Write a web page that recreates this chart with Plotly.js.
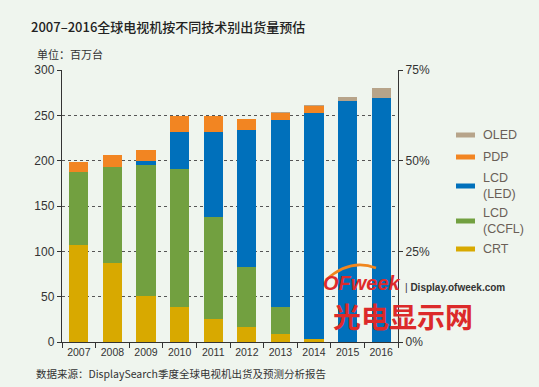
<!DOCTYPE html>
<html>
<head>
<meta charset="utf-8">
<script src="https://cdn.plot.ly/plotly-3.0.1.min.js"></script>
<style>
html,body{margin:0;padding:0;background:#eff5ee;}
#chart{width:539px;height:387px;}
</style>
</head>
<body>
<div id="chart"></div>
<script>
// ---- data (millions of units) ----
const years = ['2007','2008','2009','2010','2011','2012','2013','2014','2015','2016'];
const crt   = [107, 87, 51, 39, 25, 17, 9, 3, 0, 0];
const ccfl  = [80, 106.5, 144, 152, 113, 66, 30, 0, 0, 0];
const led   = [0, 0, 4.5, 41, 94, 151, 205.5, 250, 265.5, 269];
const pdp   = [11, 13, 12.5, 17.5, 17.5, 12.5, 8.5, 7, 0.5, 0];
const oled  = [0, 0, 0, 0, 0, 0, 0.3, 1.2, 4, 11];
const leftTicks  = [0, 50, 100, 150, 200, 250, 300];
const rightTicks = [0, 0.25, 0.5, 0.75];

const seriesNames = ['CRT', 'LCD<br>(CCFL)', 'LCD<br>(LED)', 'PDP', 'OLED'];
const seriesData  = [crt, ccfl, led, pdp, oled];
const colors      = ['#d8a900', '#72a040', '#0070bb', '#f28522', '#b7a48a'];

const FONT = '"Liberation Sans", "Noto Sans CJK SC", Arial, sans-serif';
const CJK = '"Noto Sans CJK SC", "Liberation Sans", sans-serif';

// plot-area pixel geometry helpers
const L = 62, R = 398, T = 70, B = 342;
const px = x => (x - L) / (R - L);
const py = y => (B - y) / (B - T);

const traces = seriesData.map((d, i) => ({
  type: 'bar', x: years, y: d, name: seriesNames[i],
  marker: {color: colors[i], line: {width: 0}},
  showlegend: false, hoverinfo: 'x+y+name'
}));
// helper trace so the right axis is drawn
traces.push({type: 'scatter', x: [years[0]], y: [rightTicks[0]], yaxis: 'y2',
  mode: 'none', showlegend: false, hoverinfo: 'skip'});

// custom legend (line swatches) built from series list
const legendY = [249, 221, 186, 157, 135];
const shapes = [];
const annotations = [];
seriesNames.forEach((n, i) => {
  shapes.push({type: 'line', xref: 'paper', yref: 'paper',
    x0: px(456), x1: px(475), y0: py(legendY[i]), y1: py(legendY[i]),
    line: {color: colors[i], width: 5}});
  annotations.push({xref: 'paper', yref: 'paper', x: px(481), y: py(legendY[i]),
    xanchor: 'left', yanchor: 'middle', align: 'left', showarrow: false,
    text: n, font: {family: FONT, size: 12.5, color: '#6a5f57'}});
});

// titles / notes
annotations.push({xref: 'paper', yref: 'paper', x: px(29), y: py(27),
  xanchor: 'left', yanchor: 'middle', showarrow: false,
  text: '2007–2016全球电视机按不同技术别出货量预估',
  font: {family: CJK, size: 13, color: '#222', weight: 500}});
annotations.push({xref: 'paper', yref: 'paper', x: px(35), y: py(54),
  xanchor: 'left', yanchor: 'middle', showarrow: false,
  text: '单位：百万台', font: {family: CJK, size: 11, color: '#333'}});
annotations.push({xref: 'paper', yref: 'paper', x: px(34), y: py(373),
  xanchor: 'left', yanchor: 'middle', showarrow: false,
  text: '数据来源：DisplaySearch季度全球电视机出货及预测分析报告',
  font: {family: CJK, size: 10.5, color: '#333'}});

// watermark
annotations.push({xref: 'paper', yref: 'paper', x: px(321), y: py(283),
  xanchor: 'left', yanchor: 'middle', showarrow: false,
  text: '<b><i>OFweek</i></b>', font: {family: 'Liberation Sans, Arial, sans-serif', size: 20, color: '#de2b2b'}});
annotations.push({xref: 'paper', yref: 'paper', x: px(403), y: py(287),
  xanchor: 'left', yanchor: 'middle', showarrow: false,
  text: '| <b>Display.ofweek.com</b>', font: {family: 'Liberation Sans, Arial, sans-serif', size: 10, color: '#333'}});
annotations.push({xref: 'paper', yref: 'paper', x: px(331), y: py(315.5),
  xanchor: 'left', yanchor: 'middle', showarrow: false,
  text: '<b>光电显示网</b>', font: {family: CJK, size: 28, color: '#dc2a2a'}});
shapes.push({type: 'path', xref: 'paper', yref: 'paper', layer: 'above',
  path: 'M ' + px(326) + ' ' + py(280) + ' Q ' + px(350) + ' ' + py(258) + ' ' + px(376) + ' ' + py(268),
  line: {color: '#f0861e', width: 2.5}});

const layout = {
  width: 539, height: 387,
  margin: {l: L, r: 539 - R, t: T, b: 387 - B, pad: 0},
  paper_bgcolor: '#eff5ee', plot_bgcolor: 'rgba(0,0,0,0)',
  barmode: 'stack', bargap: 0.43,
  font: {family: FONT, size: 11, color: '#333'},
  xaxis: {
    type: 'category', showline: true, linecolor: '#333', linewidth: 1.2,
    ticks: 'outside', tickson: 'boundaries', ticklen: 5, tickcolor: '#333',
    tickfont: {family: FONT, size: 10.5, color: '#333'}, showgrid: false,
    fixedrange: true
  },
  yaxis: {
    range: [0, 300], tickvals: leftTicks, showline: true, linecolor: '#333', linewidth: 1.2,
    ticks: 'outside', ticklen: 4, tickcolor: '#333',
    showgrid: true, gridcolor: '#555', gridwidth: 1, griddash: 'dot',
    zeroline: false, tickfont: {family: FONT, size: 12, color: '#333'}
  },
  yaxis2: {
    overlaying: 'y', side: 'right', range: [0, 0.75], tickvals: rightTicks,
    tickformat: '.0%', showline: true, linecolor: '#333', linewidth: 1.2,
    ticks: 'outside', ticklen: 4, tickcolor: '#333', showgrid: false, zeroline: false,
    tickfont: {family: FONT, size: 12, color: '#333'}
  },
  showlegend: false,
  shapes: shapes,
  annotations: annotations
};

Plotly.newPlot('chart', traces, layout, {displayModeBar: false, staticPlot: true});
</script>
</body>
</html>
